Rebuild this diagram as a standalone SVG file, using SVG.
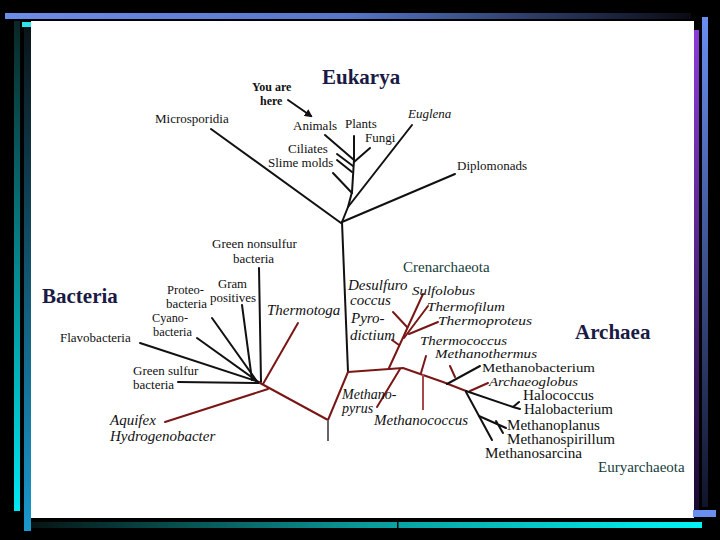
<svg xmlns="http://www.w3.org/2000/svg" width="720" height="540" viewBox="0 0 720 540">
<defs>
<linearGradient id="gTop" x1="0" y1="0" x2="1" y2="0"><stop offset="0" stop-color="#6b8ce8"/><stop offset="0.5" stop-color="#5577c8"/><stop offset="1" stop-color="#0a0a14"/></linearGradient>
<linearGradient id="gBot" x1="0" y1="0" x2="1" y2="0"><stop offset="0" stop-color="#061414"/><stop offset="0.5" stop-color="#0a9a9a"/><stop offset="1" stop-color="#00f4f4"/></linearGradient>
<linearGradient id="gL1" x1="0" y1="0" x2="0" y2="1"><stop offset="0" stop-color="#0a2626"/><stop offset="1" stop-color="#00e8f4"/></linearGradient>
<linearGradient id="gL2" x1="0" y1="0" x2="0" y2="1"><stop offset="0" stop-color="#0a1418"/><stop offset="1" stop-color="#1a98cc"/></linearGradient>
<linearGradient id="gR1" x1="0" y1="0" x2="0" y2="1"><stop offset="0" stop-color="#8a3cd8"/><stop offset="1" stop-color="#1a0a30"/></linearGradient>
<linearGradient id="gR2" x1="0" y1="0" x2="0" y2="1"><stop offset="0" stop-color="#6a8ef0"/><stop offset="1" stop-color="#10142a"/></linearGradient>
<marker id="arr" markerWidth="8" markerHeight="8" refX="6" refY="4" orient="auto" markerUnits="userSpaceOnUse"><path d="M0,0 L8,4 L0,8 z" fill="#111"/></marker>
</defs>
<style>
text{font-family:"Liberation Serif","Times New Roman",serif}
.lbl{font-size:13px;fill:#111}
.sm{font-size:12px;fill:#111}
.lg{font-size:14px;fill:#111}
.it{font-size:15px;font-style:italic;fill:#111}
.im{font-size:14px;font-style:italic;fill:#111}
.is{font-size:13px;font-style:italic;fill:#111}
.ix{font-size:12px;font-style:italic;fill:#111}
.ttl{font-size:21px;font-weight:bold;fill:#1a1a44}
.grp{font-size:15px;fill:#15403a}
.yah{font-size:12px;font-weight:bold;fill:#111}
.b{stroke:#111;stroke-width:2;fill:none;stroke-linecap:round;stroke-linejoin:round}
.r{stroke:#7a1616;stroke-width:2;fill:none;stroke-linecap:round;stroke-linejoin:round}
</style>
<rect x="0" y="0" width="720" height="540" fill="#000"/>
<g id="frame">
<rect x="5" y="13" width="686" height="6" fill="url(#gTop)"/>
<rect x="31" y="21" width="663" height="497" fill="#fff"/>
<rect x="14" y="21" width="6" height="490" fill="url(#gL1)"/>
<rect x="24" y="27" width="7" height="504" fill="url(#gL2)"/>
<rect x="22" y="22" width="9" height="5" fill="#30e4ec"/>
<rect x="694" y="30" width="5" height="480" fill="url(#gR1)"/>
<rect x="702" y="17" width="6" height="490" fill="url(#gR2)"/>
<rect x="693" y="510" width="23" height="7" fill="#6a8ef0"/>
<rect x="31" y="522" width="671" height="6" fill="url(#gBot)"/>
<rect x="397" y="521" width="1.5" height="8" fill="#000"/>
</g>
<g id="connectors">
<path class="b" d="M211,129 L341,223"/>
<path class="b" d="M455,174 L342,222"/>
<path class="b" d="M342,222 L348,372"/>
<path class="b" d="M342,222 L348,207 L352,192 L354,160 L354,136"/>
<path class="b" d="M412,125 L348,207"/>
<path class="b" d="M370,148 L354,162"/>
<path class="b" d="M325,135 L354,160"/>
<path class="b" d="M337,154 L353,166"/>
<path class="b" d="M337,160 L352,172"/>
<path class="b" d="M333,173 L352,193"/>
<path class="b" d="M288,100 L311,116" marker-end="url(#arr)"/>
<path class="b" d="M259,268 L261,382"/>
<path class="b" d="M242,305 L252,380"/>
<path class="b" d="M212,318 L256,380"/>
<path class="b" d="M197,338 L257,381"/>
<path class="b" d="M140,343 L259,382"/>
<path class="b" d="M178,382 L259,383"/>
<path class="r" d="M298,323 L263,384"/>
<path class="r" d="M165,422 L268,389"/>
<path class="r" d="M260,383 L328,420 L348,372"/>
<path d="M328,420 L328,441" stroke="#666" stroke-width="2"/>
<path class="r" d="M348,372 L403,368 L443,382 L466,391" stroke-width="3"/>
<path class="r" d="M389,368 L423,294"/>
<path class="r" d="M407,327 L393,312"/>
<path class="r" d="M399,345 L392,340"/>
<path class="r" d="M404,338 L428,306"/>
<path class="r" d="M409,334 L438,322"/>
<path class="r" d="M400,369 L377,407"/>
<path class="r" d="M421,373 L426,356"/>
<path d="M423,374 L423,410" stroke="#a84848" stroke-width="2"/>
<path class="r" d="M450,366 L455,377"/>
<path class="r" d="M488,383 L470,391"/>
<path class="b" d="M480,366 L447,384"/>
<path class="b" d="M466,391 L513,407 M513,407 L519,402 M513,407 L520,409"/>
<path class="b" d="M466,392 L492,440"/>
<path class="b" d="M479,416 L506,428 M496,421 L503,433"/>
</g>
<g id="titles">
<text class="ttl" x="322" y="84">Eukarya</text>
<text class="ttl" x="42" y="303">Bacteria</text>
<text class="ttl" x="575" y="339">Archaea</text>
<text class="grp" x="403" y="272">Crenarchaeota</text>
<text class="grp" x="598" y="472">Euryarchaeota</text>
</g>
<g id="you-are-here">
<text class="yah" x="252" y="91">You are</text>
<text class="yah" x="260" y="105">here</text>
</g>
<g id="eukarya-labels">
<text class="lbl" x="155" y="123">Microsporidia</text>
<text class="lbl" x="293" y="130">Animals</text>
<text class="lbl" x="345" y="128">Plants</text>
<text class="lbl" x="365" y="142">Fungi</text>
<text class="lbl" x="288" y="153">Ciliates</text>
<text class="lbl" x="268" y="167">Slime molds</text>
<text class="is" x="408" y="118">Euglena</text>
<text class="lbl" x="457" y="170">Diplomonads</text>
</g>
<g id="bacteria-labels">
<text class="lbl" x="212" y="248">Green nonsulfur</text>
<text class="lbl" x="233" y="263">bacteria</text>
<text class="sm" x="218" y="288" textLength="29" lengthAdjust="spacingAndGlyphs">Gram</text>
<text class="sm" x="210" y="302" textLength="46" lengthAdjust="spacingAndGlyphs">positives</text>
<text class="sm" x="167" y="294" textLength="37" lengthAdjust="spacingAndGlyphs">Proteo-</text>
<text class="sm" x="166" y="308" textLength="41" lengthAdjust="spacingAndGlyphs">bacteria</text>
<text class="sm" x="152" y="322" textLength="36" lengthAdjust="spacingAndGlyphs">Cyano-</text>
<text class="sm" x="153" y="336" textLength="39" lengthAdjust="spacingAndGlyphs">bacteria</text>
<text class="lbl" x="60" y="342">Flavobacteria</text>
<text class="lbl" x="133" y="375">Green sulfur</text>
<text class="lbl" x="133" y="389">bacteria</text>
<text class="it" x="267" y="315">Thermotoga</text>
<text class="it" x="110" y="425">Aquifex</text>
<text class="it" x="110" y="441">Hydrogenobacter</text>
</g>
<g id="archaea-labels">
<text class="it" x="348" y="290">Desulfuro</text>
<text class="it" x="350" y="305">coccus</text>
<text class="it" x="351" y="323">Pyro-</text>
<text class="it" x="350" y="340">dictium</text>
<text class="is" x="412" y="295" textLength="63" lengthAdjust="spacingAndGlyphs">Sulfolobus</text>
<text class="is" x="427" y="311" textLength="78" lengthAdjust="spacingAndGlyphs">Thermofilum</text>
<text class="is" x="438" y="325" textLength="94" lengthAdjust="spacingAndGlyphs">Thermoproteus</text>
<text class="ix" x="420" y="344.5" textLength="87" lengthAdjust="spacingAndGlyphs">Thermococcus</text>
<text class="ix" x="435" y="358" textLength="102" lengthAdjust="spacingAndGlyphs">Methanothermus</text>
<text class="lbl" x="482" y="372" textLength="113" lengthAdjust="spacingAndGlyphs">Methanobacterium</text>
<text class="is" x="489" y="386" textLength="89" lengthAdjust="spacingAndGlyphs">Archaeoglobus</text>
<text class="lg" x="523" y="400" textLength="71" lengthAdjust="spacingAndGlyphs">Halococcus</text>
<text class="lg" x="524" y="414" textLength="89" lengthAdjust="spacingAndGlyphs">Halobacterium</text>
<text class="lg" x="507" y="430" textLength="93" lengthAdjust="spacingAndGlyphs">Methanoplanus</text>
<text class="lg" x="507" y="444" textLength="108" lengthAdjust="spacingAndGlyphs">Methanospirillum</text>
<text class="lg" x="485" y="458" textLength="97" lengthAdjust="spacingAndGlyphs">Methanosarcina</text>
<text class="im" x="342" y="399">Methano-</text>
<text class="im" x="342" y="413">pyrus</text>
<text class="it" x="374" y="425">Methanococcus</text>
</g>
</svg>
